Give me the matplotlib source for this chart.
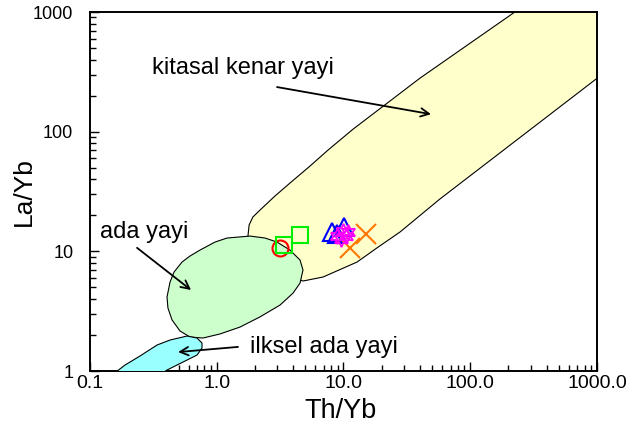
#!/usr/bin/env python3
# -*- coding: utf-8 -*-
"""
Th/Yb vs La/Yb tectonic discrimination diagram (log-log)
"""

import matplotlib
matplotlib.use('Agg')
import matplotlib.pyplot as plt
from matplotlib.ticker import FixedLocator, FixedFormatter, LogLocator, NullFormatter

plt.rcParams['font.family'] = ['Liberation Sans', 'DejaVu Sans']

#   field outlines (Th/Yb, La/Yb)
kitasal_x = [1.76, 1.80, 1.93, 2.28, 2.88, 3.78, 5.44, 7.55, 11.9, 40.1, 230.0, 2618.0,
             2618.0, 982.0, 57.7, 27.9, 18.4, 12.8, 6.89, 4.79, 3.16, 2.00]
kitasal_y = [13.2, 16.6, 19.4, 23.0, 29.0, 37.2, 51.6, 70.2, 105.0, 280.0, 1017.0, 6210.0,
             605.0, 275.0, 27.4, 14.5, 10.7, 8.14, 6.10, 5.65, 6.71, 11.3]

ada_x = [0.738, 0.969, 1.205, 1.829, 2.403, 2.988, 3.78, 4.54, 4.79, 4.54, 4.00, 3.16,
         2.19, 1.526, 1.061, 0.779, 0.615, 0.513, 0.444, 0.412, 0.405, 0.428, 0.460,
         0.532, 0.615]
ada_y = [10.25, 11.96, 12.92, 13.42, 12.92, 11.96, 10.25, 8.46, 6.98, 5.43, 4.48, 3.56,
         2.83, 2.33, 2.04, 1.887, 1.923, 2.16, 2.67, 3.36, 4.15, 5.54, 6.71, 8.14, 9.14]

ilksel_x = [0.139, 0.189, 0.248, 0.338, 0.428, 0.582, 0.699, 0.765, 0.765, 0.699, 0.542,
            0.405, 0.326]
ilksel_y = [0.874, 1.122, 1.335, 1.649, 1.815, 1.96, 1.887, 1.713, 1.556, 1.36, 1.189,
            1.019, 0.874]

#   samples
circ_x, circ_y = [3.16], [10.7]
sq_x, sq_y = [3.42, 4.50], [11.3, 13.7]
tri_x, tri_y = [8.11, 10.1, 8.89], [14.5, 16.0, 13.9]
star_x = [8.9, 9.91, 10.85, 9.56, 10.46]
star_y = [13.4, 14.8, 14.6, 12.7, 13.5]
cross_x, cross_y = [15.0, 11.25], [13.9, 10.7]

#   labels
xticks = [0.1, 1.0, 10.0, 100.0, 1000.0]
xticklabels = ['0.1', '1.0', '10.0', '100.0', '1000.0']
yticks = [1, 10, 100, 1000]
yticklabels = ['1', '10', '100', '1000']

fig = plt.figure(figsize=(6.29, 4.37), dpi=100)
ax = fig.add_axes([0.1431, 0.1510, 0.8060, 0.8215])
ax.set_xscale('log')
ax.set_yscale('log')

ax.fill(kitasal_x, kitasal_y, facecolor='#FFFFCC', edgecolor='black', lw=0.8, zorder=1)
ax.fill(ada_x, ada_y, facecolor='#CCFFCC', edgecolor='black', lw=0.8, zorder=2)
ax.fill(ilksel_x, ilksel_y, facecolor='#99FFFF', edgecolor='black', lw=0.8, zorder=3)

ax.plot(circ_x, circ_y, 'o', mfc='none', mec='red', ms=11.5, mew=1.5, zorder=5)
ax.plot(sq_x, sq_y, 's', mfc='none', mec='#00EE00', ms=12, mew=1.5, zorder=5)
ax.plot(tri_x, tri_y, '^', mfc='none', mec='blue', ms=13, mew=1.5, zorder=5)
ax.plot(star_x, star_y, marker=(6, 1, 0), ls='none', mfc='none', mec='magenta',
        ms=11, mew=1.3, zorder=6)
ax.plot(cross_x, cross_y, 'x', mec='#FF7700', ms=14, mew=1.5, zorder=5)

#   field names and arrows
arr = dict(arrowstyle='->', color='black', lw=1.3, mutation_scale=15,
           shrinkA=0, shrinkB=0)
ax.text(0.31, 340, 'kitasal kenar yayi', fontsize=17, ha='left', va='center')
ax.annotate('', xy=(49.0, 140.0), xytext=(2.99, 236.0), arrowprops=arr)
ax.text(0.12, 14.5, 'ada yayi', fontsize=17, ha='left', va='center')
ax.annotate('', xy=(0.627, 4.75), xytext=(0.235, 10.7), arrowprops=arr)
ax.text(1.83, 1.59, 'ilksel ada yayi', fontsize=17, ha='left', va='center')
ax.annotate('', xy=(0.495, 1.44), xytext=(1.47, 1.59), arrowprops=arr)

ax.set_xlim(0.1, 1000)
ax.set_ylim(1, 1000)
ax.xaxis.set_major_locator(FixedLocator(xticks))
ax.xaxis.set_major_formatter(FixedFormatter(xticklabels))
ax.yaxis.set_major_locator(FixedLocator(yticks))
ax.yaxis.set_major_formatter(FixedFormatter(yticklabels))
ax.xaxis.set_minor_locator(LogLocator(base=10, subs=range(2, 10)))
ax.yaxis.set_minor_locator(LogLocator(base=10, subs=range(2, 10)))
ax.xaxis.set_minor_formatter(NullFormatter())
ax.yaxis.set_minor_formatter(NullFormatter())

ax.tick_params(which='both', direction='in', top=False, right=False, width=1.0)
ax.tick_params(which='major', length=6.5)
ax.tick_params(which='minor', length=4.3)
ax.tick_params(axis='x', labelsize=14, pad=3)
ax.tick_params(axis='y', labelsize=13, pad=12)
for sp in ax.spines.values():
    sp.set_linewidth(1.4)

ax.set_xlabel('Th/Yb', fontsize=19.5)
ax.set_ylabel('La/Yb', fontsize=19)
ax.xaxis.set_label_coords(0.495, -0.075)
ax.yaxis.set_label_coords(-0.106, 0.5)

plt.savefig('out.png', dpi=100)
